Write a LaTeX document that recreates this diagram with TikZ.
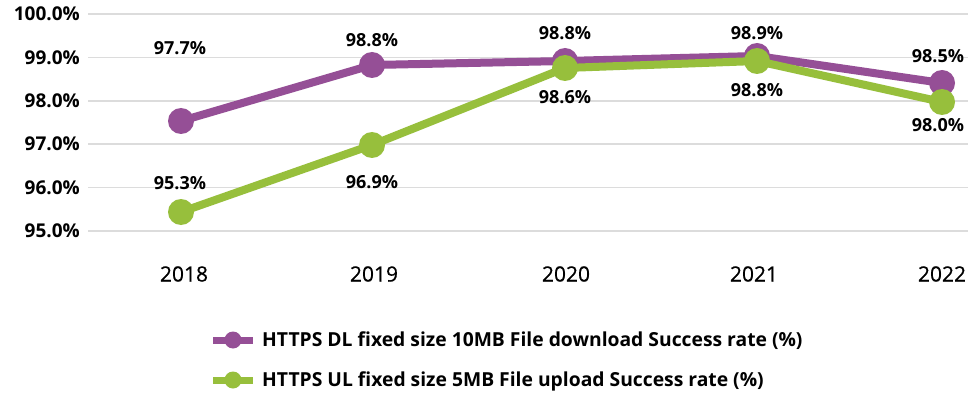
\documentclass[tikz,border=0pt]{standalone}
\usepackage{fontspec}
\setmainfont{Open Sans}
\newfontfamily\yearfont[FakeBold=0.6]{Open Sans}
\definecolor{dlpurple}{HTML}{954F96}
\definecolor{ulgreen}{HTML}{97BF3C}
\definecolor{gridgray}{HTML}{DCDCDC}
\begin{document}
\begin{tikzpicture}[x=1pt,y=-1pt,
  grid/.style={draw=gridgray,line width=1.5pt},
  ylab/.style={anchor=east,inner sep=0pt,font=\fontsize{19}{22}\selectfont\bfseries},
  xlab/.style={anchor=center,inner sep=0pt,font=\yearfont\fontsize{21}{24}\selectfont},
  vlab/.style={anchor=center,inner sep=0pt,font=\fontsize{18}{21}\selectfont\bfseries},
  dot/.style={circle,fill=#1,draw=none,inner sep=0pt,minimum size=26pt},
  series/.style={draw=#1,line width=8pt,line join=round},
  legdot/.style={circle,fill=#1,draw=none,inner sep=0pt,minimum size=17pt},
  legline/.style={draw=#1,line width=7pt},
  legtext/.style={anchor=west,inner sep=0pt,font=\fontsize{19.3}{23}\selectfont\bfseries}]
\useasboundingbox[fill=white] (0,0) rectangle (968,398);

% horizontal grid and value axis labels
\foreach \yy/\t [count=\i] in {14/100.0, 57.4/99.0, 100.8/98.0, 144.2/97.0, 187.6/96.0, 231/95.0}{
  \draw[grid] (88,\yy) -- (968,\yy);
  \node[ylab] (y\i) at (80,\yy) {\t\%};
}

% category axis labels
\node[xlab] (x1) at (184,274) {2018};
\node[xlab] (x2) at (374,274) {2019};
\node[xlab] (x3) at (566,274) {2020};
\node[xlab] (x4) at (754,274) {2021};
\node[xlab] (x5) at (942,274) {2022};

% download series
\node[dot=dlpurple] (d1) at (181,121) {};
\node[dot=dlpurple] (d2) at (372,65) {};
\node[dot=dlpurple] (d3) at (565,61) {};
\node[dot=dlpurple] (d4) at (757,56) {};
\node[dot=dlpurple] (d5) at (942,83) {};
\draw[series=dlpurple] (d1.center) -- (d2.center) -- (d3.center) -- (d4.center) -- (d5.center);

% upload series
\node[dot=ulgreen] (u1) at (181,212) {};
\node[dot=ulgreen] (u2) at (372,145) {};
\node[dot=ulgreen] (u3) at (565,68) {};
\node[dot=ulgreen] (u4) at (757,61) {};
\node[dot=ulgreen] (u5) at (942,102) {};
\draw[series=ulgreen] (u1.center) -- (u2.center) -- (u3.center) -- (u4.center) -- (u5.center);

% value labels
\node[vlab] (ld1) at (180,48) {97.7\%};
\node[vlab] (ld2) at (372,40) {98.8\%};
\node[vlab] (ld3) at (565,33) {98.8\%};
\node[vlab] (ld4) at (757,33) {98.9\%};
\node[vlab] (ld5) at (938,56) {98.5\%};
\node[vlab] (lu1) at (180,183) {95.3\%};
\node[vlab] (lu2) at (372,182) {96.9\%};
\node[vlab] (lu3) at (565,97) {98.6\%};
\node[vlab] (lu4) at (757,90) {98.8\%};
\node[vlab] (lu5) at (938,125) {98.0\%};

% legend
\coordinate (la1) at (213,340);
\coordinate (lb1) at (253,340);
\draw[legline=dlpurple] (la1) -- (lb1);
\node[legdot=dlpurple] (lm1) at (233,340) {};
\node[legtext] (lt1) at (262,341) {HTTPS DL fixed size 10MB File download Success rate (\%)};
\coordinate (la2) at (213,380);
\coordinate (lb2) at (253,380);
\draw[legline=ulgreen] (la2) -- (lb2);
\node[legdot=ulgreen] (lm2) at (233,380) {};
\node[legtext] (lt2) at (262,381) {HTTPS UL fixed size 5MB File upload Success rate (\%)};
\end{tikzpicture}
\end{document}
